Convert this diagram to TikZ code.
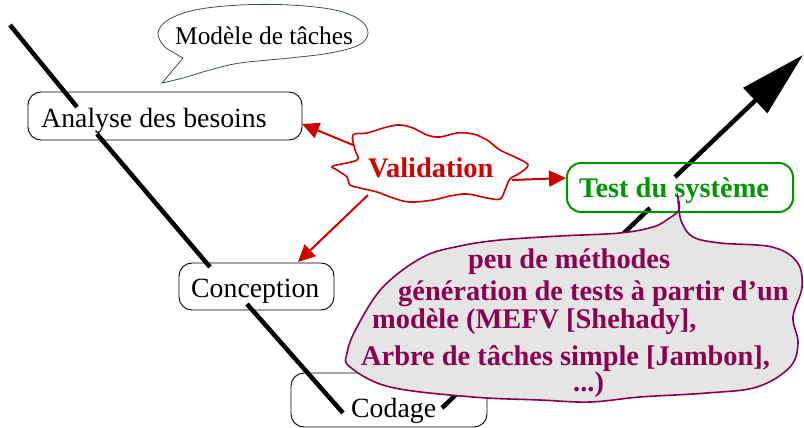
\documentclass[tikz,border=0pt]{standalone}
\usepackage{fontspec}
\setmainfont{Liberation Serif}
\usetikzlibrary{arrows.meta}
\definecolor{vred}{RGB}{208,0,0}
\definecolor{vgreen}{RGB}{0,150,0}
\definecolor{vpurple}{RGB}{140,0,80}
\definecolor{bubgray}{RGB}{229,229,229}
\definecolor{slate}{RGB}{60,80,90}
\begin{document}
\begin{tikzpicture}[x=1pt,y=-1pt,
  vline/.style={line width=4.5pt, line cap=butt},
  box/.style={draw, rounded corners=13pt, line width=0.9pt, inner sep=0},
  lbl/.style={anchor=base west, inner sep=0, font=\fontsize{27.8}{30}\selectfont},
  blbl/.style={anchor=base west, inner sep=0, font=\fontsize{28.4}{30}\selectfont\bfseries},
  redarrow/.style={vred, line width=2pt, -{Triangle[length=17pt,width=16pt]}},
]
\useasboundingbox[fill=white] (0,0) rectangle (804,428);

% V cycle line
\coordinate (v1) at (10,25);   \coordinate (v2) at (77,107);
\coordinate (v3) at (97,134);  \coordinate (v4) at (210,267);
\coordinate (v5) at (247,304); \coordinate (v6) at (343,413);
\coordinate (v7) at (442,408); \coordinate (v8) at (650,208);
\coordinate (v9) at (675,177); \coordinate (v10) at (803,55);
\draw[vline] (v1) -- (v2);
\draw[vline] (v3) -- (v4);
\draw[vline] (v5) -- (v6);
\draw[vline] (v7) -- (v8);
\draw[vline, -{Triangle[length=66pt,width=34pt]}] (v9) -- (v10);

% boxes
\node[box, minimum width=274pt, minimum height=48pt] (analyse) at (165,116) {};
\node[box, minimum width=155pt, minimum height=47pt] (conception) at (256.5,286.5) {};
\node[box, minimum width=196pt, minimum height=54pt] (codage) at (389,400) {};
\node[box, draw=vgreen, line width=2pt, rounded corners=14pt, minimum width=226pt, minimum height=49pt] (test) at (680,187.5) {};

\node[lbl] (tanalyse) at (41,128) {Analyse des besoins};
\node[lbl] (tconception) at (191,297) {Conception};
\node[lbl] (tcodage) at (351,417) {Codage};
\node[blbl, text=vgreen] (ttest) at (579,197) {Test du système};

% Modele de taches bubble
\draw[slate, line width=0.8pt] (162,83) -- plot[smooth, tension=0.6] coordinates {(183,58) (176,54) (164,46) (158,33) (168,20) (195,10) (240,5) (290,5) (335,10) (360,20) (368,33) (359,45) (330,53) (290,58) (240,63) (210,70) (183,78) (162,83)} -- cycle;
\node[anchor=base west, inner sep=0, font=\fontsize{25.4}{28}\selectfont] (tmodele) at (175,45) {Modèle de tâches};

% Validation cloud
\draw[vred, line width=1.6pt, fill=white] plot[smooth cycle, tension=0.6] coordinates {(353,135) (367,133) (387,127) (400,125) (413,128) (427,135) (440,137) (457,133) (473,134) (487,140) (500,150) (517,158) (528,165) (520,173) (510,179) (505,190) (500,199) (487,198) (467,194) (450,196) (433,200) (410,202) (393,198) (377,192) (360,188) (350,185) (347,177) (337,170) (333,166) (357,160) (355,150)};
\node[blbl, text=vred] (tvalid) at (368,177) {Validation};

\coordinate (va1) at (353,145); \coordinate (vb1) at (302,124);
\coordinate (va2) at (368,195); \coordinate (vb2) at (298,262);
\coordinate (va3) at (512,180); \coordinate (vb3) at (566,178);
\draw[redarrow] (va1) -- (vb1);
\draw[redarrow] (va2) -- (vb2);
\draw[redarrow] (va3) -- (vb3);

% big bubble
\draw[vpurple, line width=1.6pt, fill=bubgray] plot[smooth, tension=0.6] coordinates {(678,198) (679,210) (668,219) (653,227) (620,233) (560,236) (500,240) (460,246) (423,257) (383,287) (357,327) (347,353) (350,367) (390,387) (473,397) (540,400) (590,402) (640,397) (707,393) (757,387) (790,367) (798,343) (793,317) (802,287) (797,262) (772,247) (720,243) (693,237) (682,223) (679,210) (678,198)} -- cycle;

\node[blbl, text=vpurple] (p1) at (468,268) {peu de méthodes};
\node[blbl, text=vpurple] (p2) at (398,300) {génération de tests à partir d’un};
\node[blbl, text=vpurple] (p3) at (372,328) {modèle (MEFV [Shehady],};
\node[blbl, text=vpurple] (p4) at (361,365) {Arbre de tâches simple [Jambon],};
\node[blbl, text=vpurple] (p5) at (573,391) {...)};
\end{tikzpicture}
\end{document}
